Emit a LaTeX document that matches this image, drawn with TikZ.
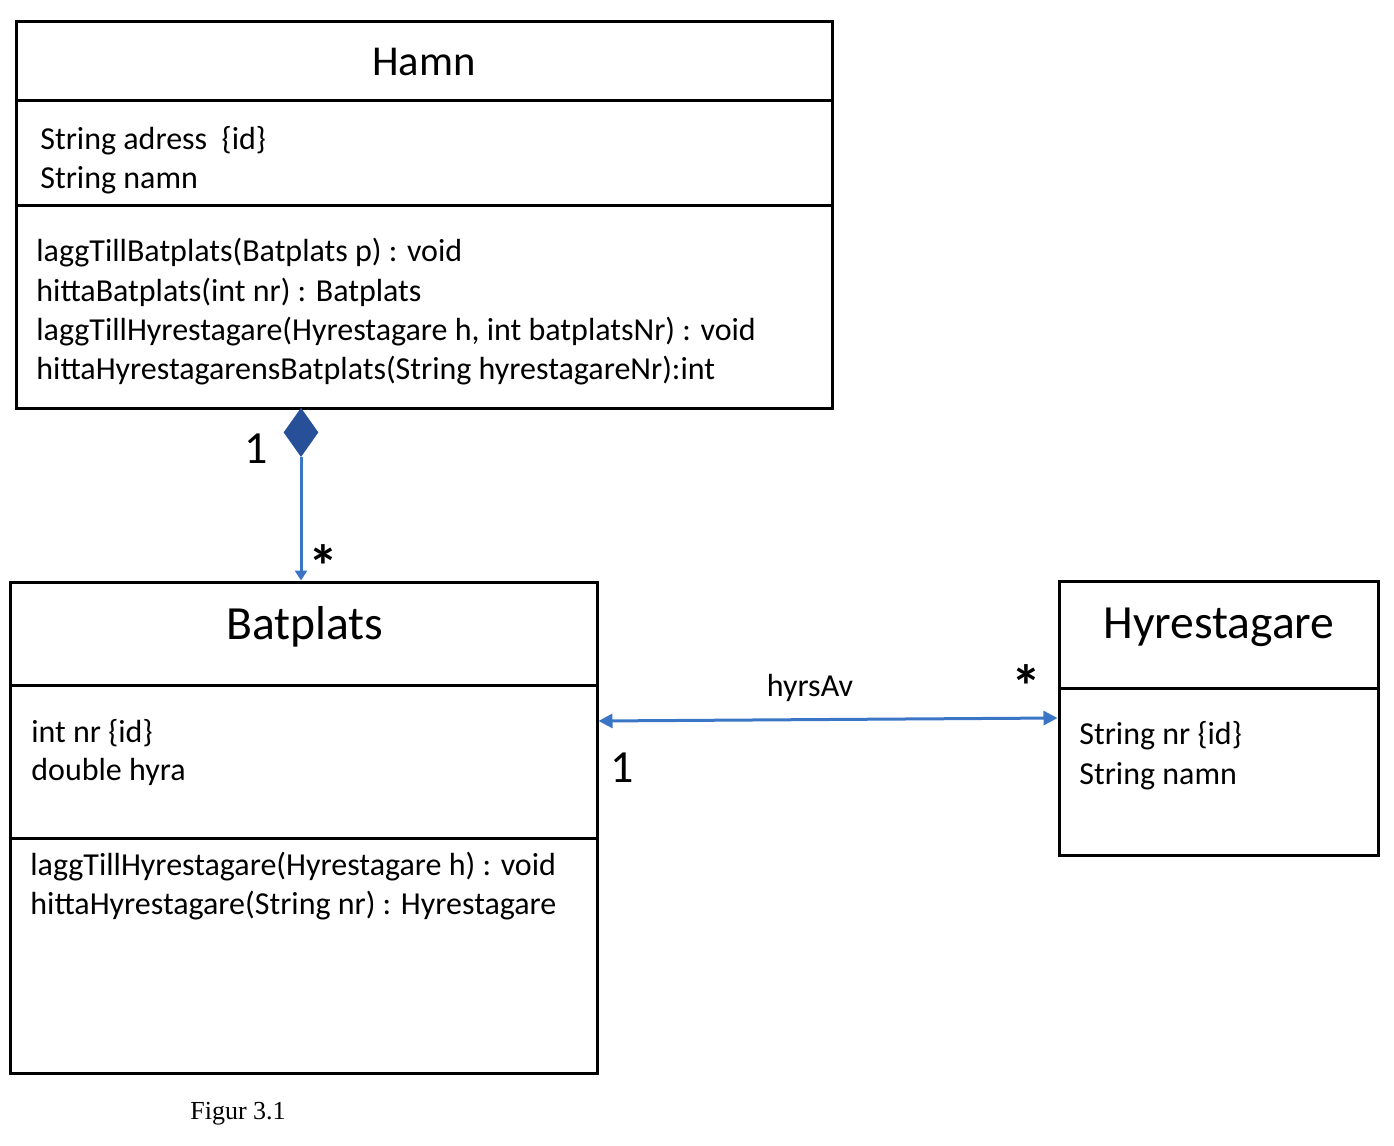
\documentclass[tikz,border=0pt]{standalone}
\usepackage{fontspec}
\setmainfont{Carlito}
\newfontfamily\figfont{Liberation Serif}
\usetikzlibrary{arrows.meta,shapes.geometric,fit}
\definecolor{umlblue}{RGB}{58,117,198}
\definecolor{umldark}{RGB}{40,80,152}
\tikzstyle{classbox}=[draw,line width=1.5pt,inner sep=0pt]
\tikzstyle{divider}=[draw,line width=1.5pt]
\tikzstyle{title}=[font=\fontsize{21.3}{25}\selectfont]
\tikzstyle{bigtitle}=[font=\fontsize{23.8}{28}\selectfont]
\tikzstyle{member}=[anchor=west,inner sep=0pt,font=\fontsize{16}{19.5}\selectfont]
\tikzstyle{mult}=[inner sep=0pt,font=\fontsize{23}{27}\selectfont]
\tikzstyle{star}=[inner sep=0pt,font=\bfseries\fontsize{30}{34}\selectfont]
\tikzstyle{link}=[draw,umlblue,line width=1.5pt]
\begin{document}
\begin{tikzpicture}[x=0.5pt,y=-0.5pt]
   \useasboundingbox (0,0) rectangle (1394,1146);
   % class boxes
   \node[classbox,fit={(16,21) (832,408)}] (hamn) {};
   \node[classbox,fit={(10,582) (597,1073)}] (batplats) {};
   \node[classbox,fit={(1059,581) (1378,855)}] (hyrestagare) {};
   \path[divider] (hamn.west |- 0,100) -- (hamn.east |- 0,100);
   \path[divider] (hamn.west |- 0,205) -- (hamn.east |- 0,205);
   \path[divider] (batplats.west |- 0,685) -- (batplats.east |- 0,685);
   \path[divider] (batplats.west |- 0,838) -- (batplats.east |- 0,838);
   \path[divider] (hyrestagare.west |- 0,688) -- (hyrestagare.east |- 0,688);
   % titles
   \node[title] (hamnname) at (424,62) {Hamn};
   \node[bigtitle] (batplatsname) at (305,627) {Batplats};
   \node[bigtitle] (hyrestagarename) at (1219,627) {Hyrestagare};
   % members
   \foreach \y/\txt [count=\i] in {141/{String adress\ \ \{id\}}, 180/{String namn}}
        \node[member] (hamnattr\i) at (40,\y) {\txt};
   \foreach \y/\txt [count=\i] in {253/{laggTillBatplats(Batplats p) : void},
        292/{hittaBatplats(int nr) : Batplats},
        332/{laggTillHyrestagare(Hyrestagare h, int batplatsNr) : void},
        371/{hittaHyrestagarensBatplats(String hyrestagareNr):int}}
        \node[member] (hamnop\i) at (36,\y) {\txt};
   \foreach \y/\txt [count=\i] in {733/{int nr \{id\}}, 772/{double hyra}}
        \node[member] (batplatsattr\i) at (31,\y) {\txt};
   \foreach \y/\txt [count=\i] in {867/{laggTillHyrestagare(Hyrestagare h) : void},
        906/{hittaHyrestagare(String nr) : Hyrestagare}}
        \node[member] (batplatsop\i) at (30,\y) {\txt};
   \foreach \y/\txt [count=\i] in {736/{String nr \{id\}}, 776/{String namn}}
        \node[member] (hyrestagareattr\i) at (1079,\y) {\txt};
   % associations
   \node[diamond,fill=umldark,draw=umldark,inner sep=0pt,minimum width=17pt,minimum height=24pt,anchor=north] (agg) at (301,408) {};
   \path[link,-{Triangle[length=5pt,width=6pt]}] (agg.south) -- (agg.south |- batplats.north);
   \path[link,{Triangle[length=7pt,width=7pt]}-{Triangle[length=7pt,width=7pt]}] (batplats.east |- 0,721) -- (hyrestagare.west |- 0,718);
   \node[member,anchor=center] (hyrsav) at (810,688) {hyrsAv};
   \node[mult] (multhamn) at (256,449) {1};
   \node[star] (multbatplats) at (323,566) {*};
   \node[mult] (multleft) at (622,768) {1};
   \node[star] (multright) at (1026,686) {*};
   \node[font=\figfont\fontsize{13}{15}\selectfont] (caption) at (238,1114) {Figur 3.1};
\end{tikzpicture}
\end{document}
